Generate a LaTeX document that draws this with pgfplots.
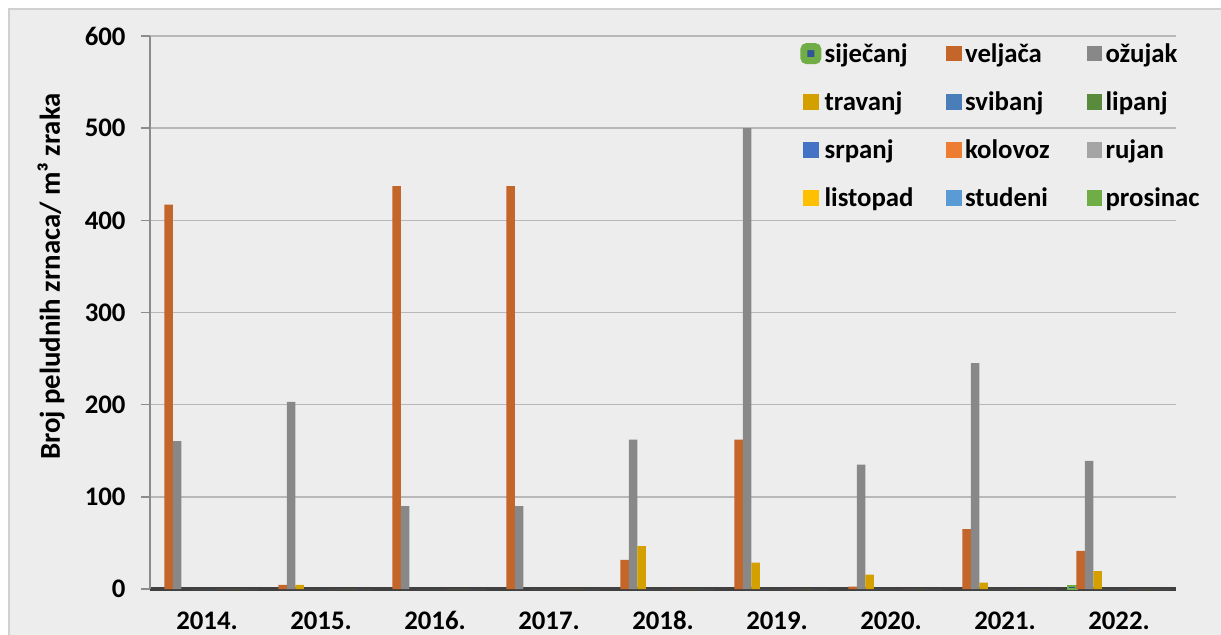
\documentclass[border=0pt]{standalone}
\usepackage{fontspec}
\setmainfont{Carlito}
\usepackage{pgfplots}
\pgfplotsset{compat=1.18}
\definecolor{bgc}{HTML}{EDEDED}
\definecolor{framec}{HTML}{D0D0D0}
\definecolor{gridc}{HTML}{B8B8B8}
\definecolor{axc}{HTML}{8C8C8C}
\definecolor{basec}{HTML}{404040}
\definecolor{cjan}{HTML}{305496}
\definecolor{cjanb}{HTML}{70AD47}
\definecolor{cfeb}{HTML}{C4652A}
\definecolor{cmar}{HTML}{888888}
\definecolor{capr}{HTML}{D4A000}
\definecolor{cmay}{HTML}{4A7EB8}
\definecolor{cjun}{HTML}{5A8A3C}
\definecolor{cjul}{HTML}{4472C4}
\definecolor{caug}{HTML}{ED7D31}
\definecolor{csep}{HTML}{A5A5A5}
\definecolor{coct}{HTML}{FFC000}
\definecolor{cnov}{HTML}{5B9BD5}
\definecolor{cdec}{HTML}{70AD47}
\newcommand{\lf}{\bfseries\fontsize{13.4}{16}\selectfont}
\newcommand{\lent}[1]{\makebox[62.5pt][l]{\hspace{1.6pt}\rule[-3pt]{0pt}{13pt}#1}}
\begin{document}
\begin{tikzpicture}
\fill[white] (-75pt,-22.5pt) rectangle (535.5pt,294.5pt);
\filldraw[fill=bgc, draw=framec, line width=1pt] (-70.5pt,-40pt) rectangle (560pt,290pt);
\begin{axis}[
  scale only axis, width=513pt, height=276.5pt,
  ybar=0pt, bar width=4.25pt,
  xmin=-0.5, xmax=8.5, ymin=0, ymax=600,
  xtick={0,1,2,3,4,5,6,7,8},
  xticklabels={2014.,2015.,2016.,2017.,2018.,2019.,2020.,2021.,2022.},
  ytick={0,100,200,300,400,500,600},
  axis x line=bottom, axis y line=left,
  x axis line style={-, draw=basec, line width=2.2pt},
  y axis line style={-, draw=axc, line width=0.75pt},
  xtick style={draw=none},
  tick align=outside, major tick length=4.5pt,
  ytick style={draw=axc, line width=0.75pt},
  ymajorgrids, major grid style={draw=gridc, line width=0.8pt},
  /pgf/number format/assume math mode=true,
  ticklabel style={font=\lf},
  xticklabel style={anchor=north, inner ysep=0pt, text height=9.5pt, text depth=0pt, yshift=-5.9pt},
  yticklabel style={xshift=-4.2pt},
  clip=false,
  legend columns=3,
  legend cell align=left,
  legend style={at={(rel axis cs:0.6335,0.9897)}, anchor=north west, draw=none, fill=none,
    inner sep=0pt, font=\lf, row sep=12.6pt, column sep=0pt, nodes={inner sep=0pt}},
  legend image code/.code={\fill[#1] (0pt,-3.9pt) rectangle (7.75pt,3.9pt);},
]
\addplot+[fill=cjan, draw=cjanb, line width=1.2pt,
  legend image code/.code={\filldraw[fill=cjan, draw=cjanb, line width=3.5pt, rounded corners=1.5pt] (0.375pt,-3.5pt) rectangle (7.375pt,3.5pt);}]
  coordinates {(8,3)};
\addlegendentry{\lent{siječanj}}
\addplot+[fill=cfeb, draw=none] coordinates {(0,417) (1,4.5) (2,437) (3,437) (4,31.5) (5,162) (6,2.5) (7,65) (8,41.5)};
\addlegendentry{\lent{veljača}}
\addplot+[fill=cmar, draw=none] coordinates {(0,160.5) (1,203) (2,90) (3,90) (4,162) (5,500) (6,135) (7,245) (8,139)};
\addlegendentry{\lent{ožujak}}
\addplot+[fill=capr, draw=none] coordinates {(1,4.5) (4,46.5) (5,28.5) (6,15.5) (7,7) (8,19.5)};
\addlegendentry{\lent{travanj}}
\addplot+[fill=cmay, draw=none] coordinates {(0,0) (1,0) (2,0) (3,0) (4,0) (5,0) (6,0) (7,0) (8,0)};
\addlegendentry{\lent{svibanj}}
\addplot+[fill=cjun, draw=none] coordinates {(0,0) (1,0) (2,0) (3,0) (4,0) (5,0) (6,0) (7,0) (8,0)};
\addlegendentry{\lent{lipanj}}
\addplot+[fill=cjul, draw=none] coordinates {(0,0) (1,0) (2,0) (3,0) (4,0) (5,0) (6,0) (7,0) (8,0)};
\addlegendentry{\lent{srpanj}}
\addplot+[fill=caug, draw=none] coordinates {(0,0) (1,0) (2,0) (3,0) (4,0) (5,0) (6,0) (7,0) (8,0)};
\addlegendentry{\lent{kolovoz}}
\addplot+[fill=csep, draw=none] coordinates {(0,0) (1,0) (2,0) (3,0) (4,0) (5,0) (6,0) (7,0) (8,0)};
\addlegendentry{\lent{rujan}}
\addplot+[fill=coct, draw=none] coordinates {(0,0) (1,0) (2,0) (3,0) (4,0) (5,0) (6,0) (7,0) (8,0)};
\addlegendentry{\lent{listopad}}
\addplot+[fill=cnov, draw=none] coordinates {(0,0) (1,0) (2,0) (3,0) (4,0) (5,0) (6,0) (7,0) (8,0)};
\addlegendentry{\lent{studeni}}
\addplot+[fill=cdec, draw=none] coordinates {(0,0) (1,0) (2,0) (3,0) (4,0) (5,0) (6,0) (7,0) (8,0)};
\addlegendentry{\lent{prosinac}}
\node[rotate=90, anchor=base, font=\bfseries\fontsize{14.4}{17}\selectfont] at ([xshift=-45pt]rel axis cs:0,0.565) {Broj peludnih zrnaca/ m³ zraka};
\end{axis}
\pgfresetboundingbox
\path[use as bounding box] (-75pt,-22.5pt) rectangle (535.5pt,294.5pt);
\end{tikzpicture}
\end{document}
